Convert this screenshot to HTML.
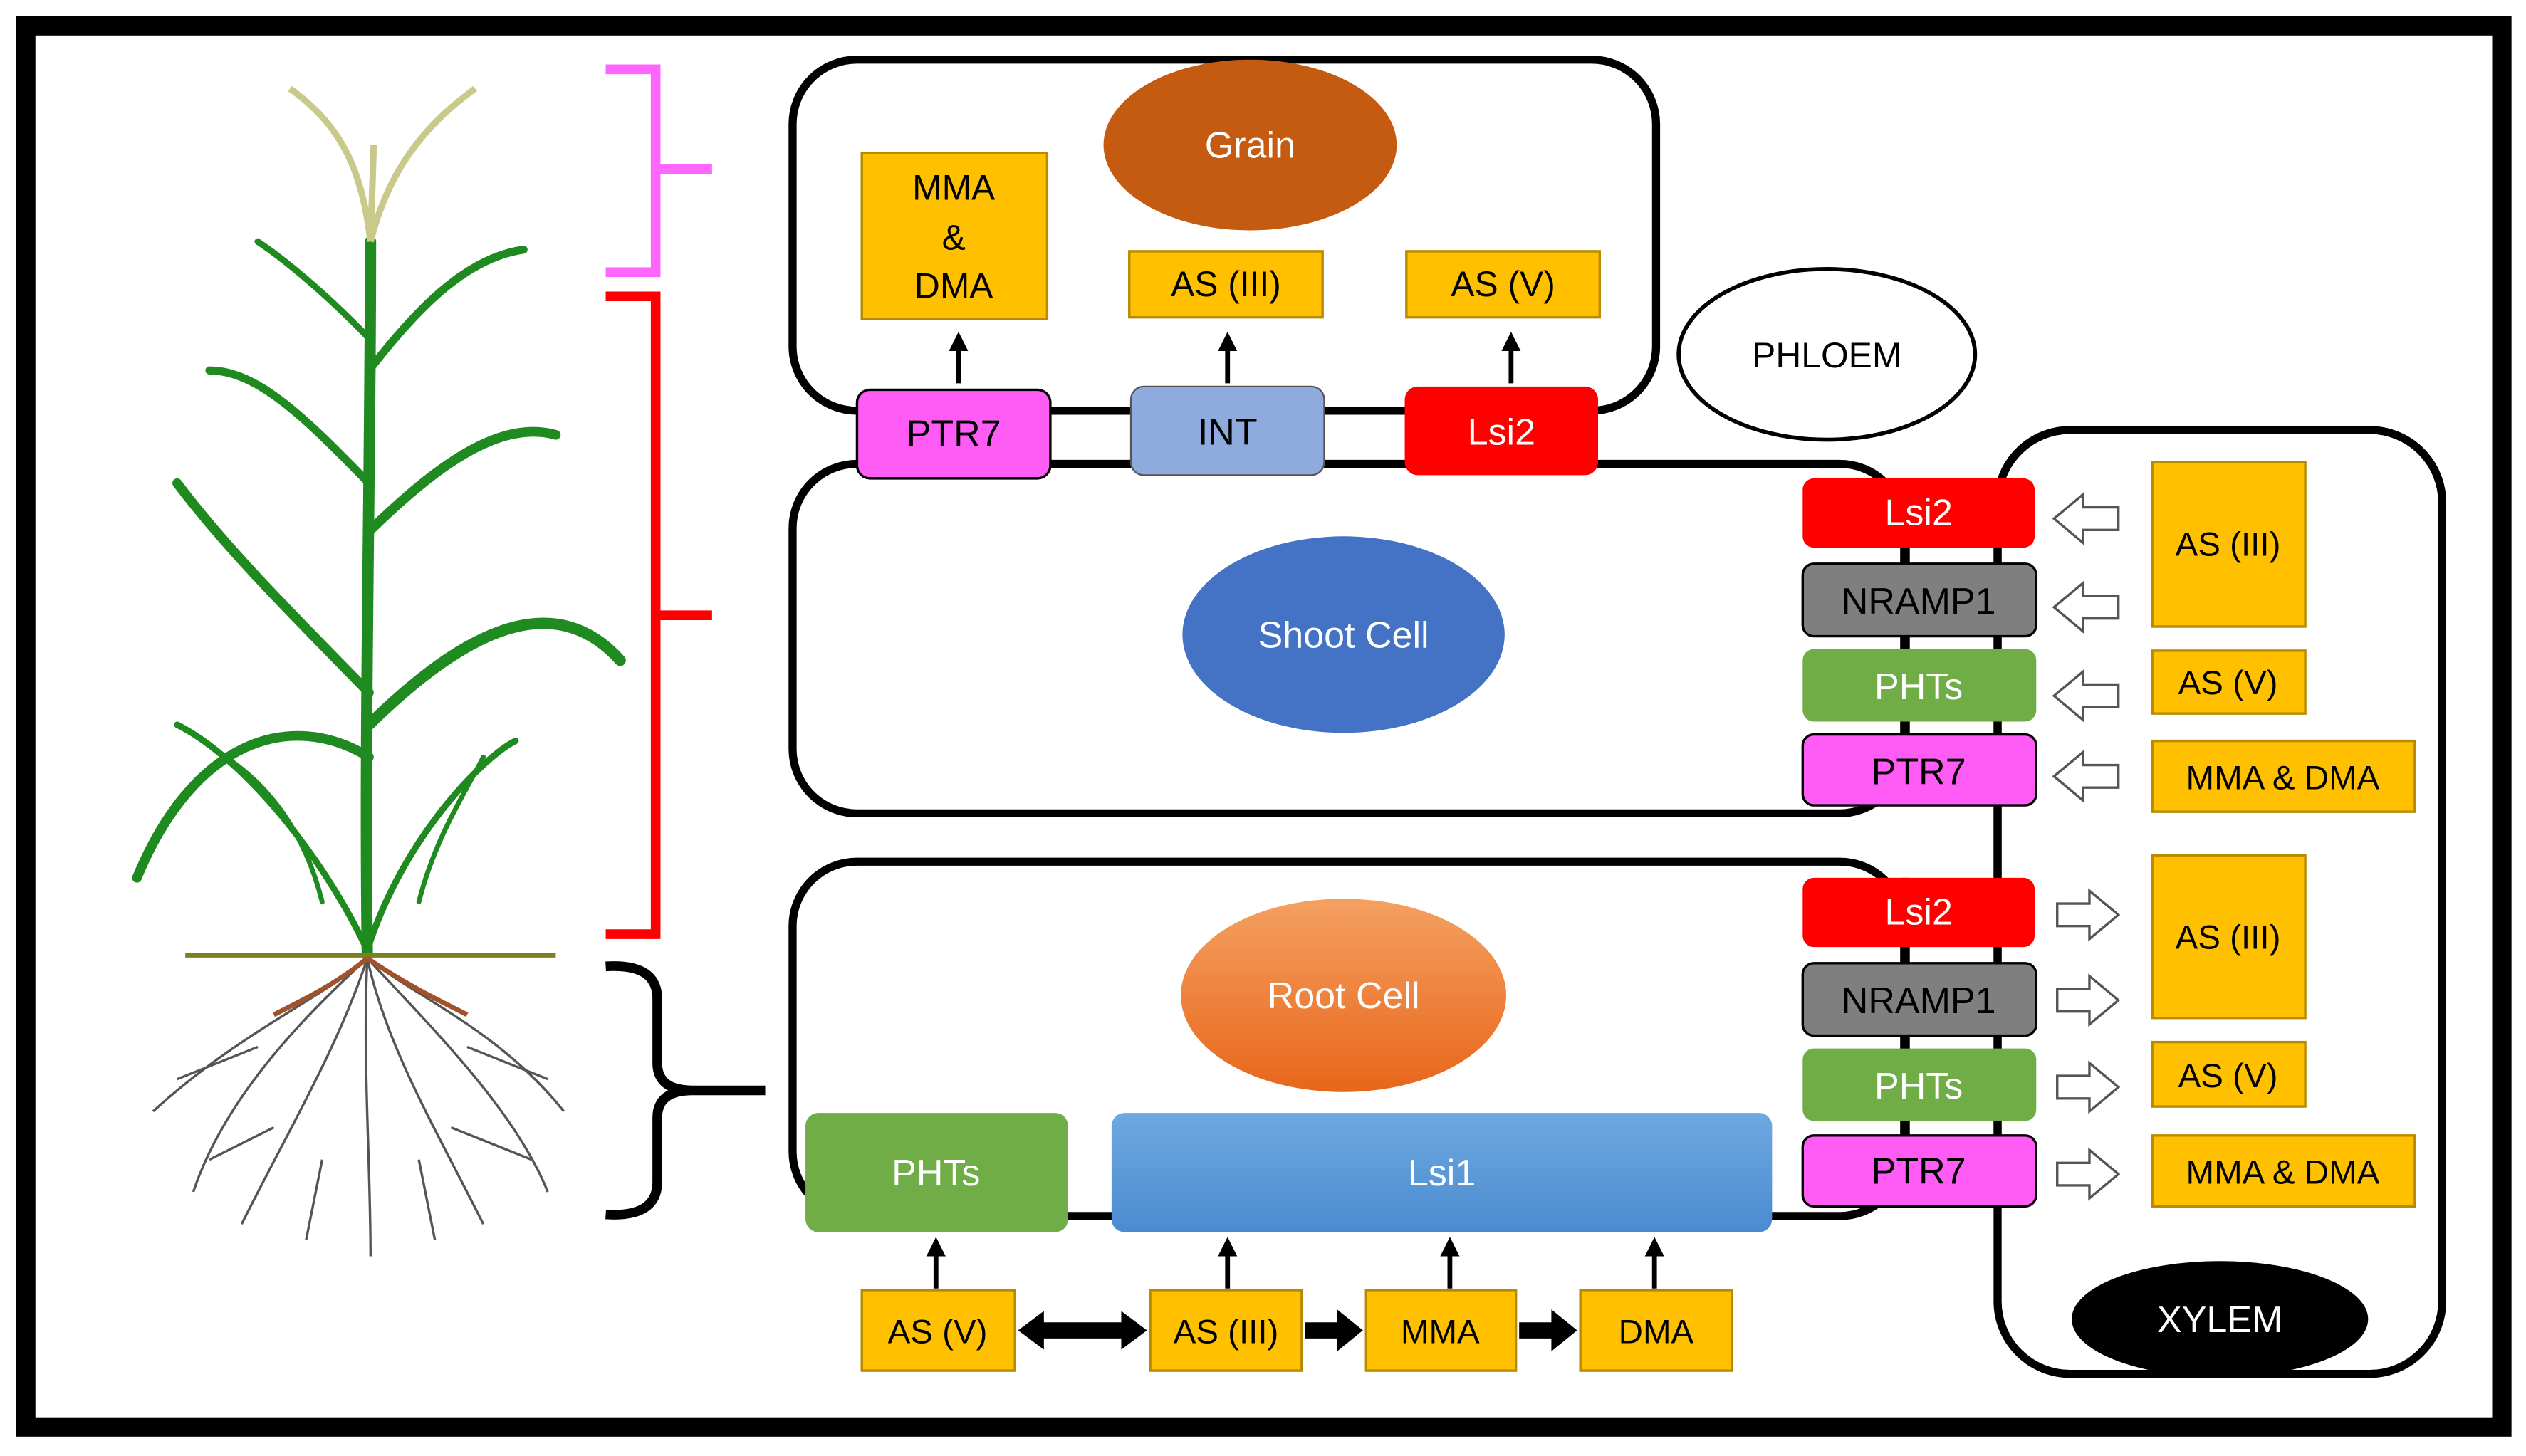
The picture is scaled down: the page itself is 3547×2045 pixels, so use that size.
<!DOCTYPE html>
<html><head><meta charset="utf-8"><style>
html,body{margin:0;padding:0;background:#fff;}
svg{display:block;}
text{font-family:"Liberation Sans",sans-serif;}
</style></head><body>
<svg width="3547" height="2045" viewBox="0 0 1568 904" xmlns="http://www.w3.org/2000/svg">
<defs>
<marker id="ah" markerWidth="4" markerHeight="4" refX="2" refY="2" orient="auto" markerUnits="strokeWidth"><path d="M0,0 L4,2 L0,4 z" fill="#000"/></marker>
<linearGradient id="rc" x1="0" y1="0" x2="0" y2="1"><stop offset="0" stop-color="#f4a062"/><stop offset="1" stop-color="#e8661a"/></linearGradient>
<linearGradient id="bl" x1="0" y1="0" x2="0" y2="1"><stop offset="0" stop-color="#6fa8e0"/><stop offset="1" stop-color="#4a8bd0"/></linearGradient>
</defs>
<rect x="0" y="0" width="1568" height="904" fill="#fff"/>
<rect x="16" y="16" width="1537" height="870" fill="#fff" stroke="#000" stroke-width="12"/>

<!-- brackets -->
<path d="M376,43 H407 V169 H376 M407,105 H442" fill="none" stroke="#ff66ff" stroke-width="6"/>
<path d="M376,184 H407 V580 H376 M407,382 H442" fill="none" stroke="#f00" stroke-width="6"/>
<path d="M376,600 Q408,598 408,620 V660 Q408,677 430,677 H475 M376,754 Q408,756 408,734 V694 Q408,677 430,677" fill="none" stroke="#000" stroke-width="6"/>

<!-- plant -->
<g stroke="#1f8a1f" fill="none" stroke-linecap="round">
<path d="M228,593 C226,450 230,300 230,150" stroke-width="7"/>
<path d="M228,590 C200,530 150,470 110,450" stroke-width="4"/>
<path d="M228,590 C250,520 300,470 320,460" stroke-width="4"/>
<path d="M229,430 C180,380 140,340 110,300" stroke-width="6"/>
<path d="M229,450 C280,400 340,360 385,410" stroke-width="7"/>
<path d="M229,330 C270,290 310,260 345,270" stroke-width="6"/>
<path d="M229,300 C190,260 160,230 130,230" stroke-width="5"/>
<path d="M229,230 C260,190 290,160 325,155" stroke-width="5"/>
<path d="M229,210 C200,180 175,160 160,150" stroke-width="4"/>
<path d="M229,470 C180,440 120,460 85,545" stroke-width="6"/>
<path d="M200,560 C190,520 170,490 140,470" stroke-width="3"/>
<path d="M260,560 C270,520 290,490 300,470" stroke-width="3"/>
</g>
<g stroke="#c9c98a" fill="none" stroke-width="4">
<path d="M230,150 C225,110 215,80 180,55"/><path d="M230,150 C240,110 260,80 295,55"/><path d="M230,150 L232,90"/>
</g>
<line x1="115" y1="593" x2="345" y2="593" stroke="#7f7f20" stroke-width="3"/>
<g stroke="#555" fill="none" stroke-width="1.5">
<path d="M228,595 C200,620 150,640 95,690"/><path d="M228,595 C260,620 310,640 350,690"/>
<path d="M228,595 C210,650 180,700 150,760"/><path d="M228,595 C240,650 270,700 300,760"/>
<path d="M228,595 C225,660 230,720 230,780"/><path d="M228,595 C190,630 140,680 120,740"/>
<path d="M228,595 C270,640 320,690 340,740"/><path d="M160,650 L110,670 M170,700 L130,720 M290,650 L340,670 M280,700 L330,720 M200,720 L190,770 M260,720 L270,770"/>
</g>
<path d="M228,595 C210,610 190,620 170,630 M228,595 C250,610 270,620 290,630" stroke="#a0522d" stroke-width="3" fill="none"/>

<!-- grain box -->
<rect x="492" y="37" width="536" height="218" rx="40" fill="none" stroke="#000" stroke-width="5"/>
<ellipse cx="776" cy="90" rx="91" ry="53" fill="#c55a11"/>
<text x="776" y="98" font-size="23" fill="#fff" text-anchor="middle">Grain</text>
<g fill="#ffc000" stroke="#b88a00" stroke-width="1.5">
<rect x="535" y="95" width="115" height="103"/><rect x="701" y="156" width="120" height="41"/><rect x="873" y="156" width="120" height="41"/>
</g>
<g font-size="22" text-anchor="middle" fill="#000">
<text x="592" y="124">MMA</text><text x="592" y="155">&amp;</text><text x="592" y="185">DMA</text>
<text x="761" y="184">AS (III)</text><text x="933" y="184">AS (V)</text>
</g>
<g stroke="#000" stroke-width="3" marker-end="url(#ah)">
<line x1="595" y1="238" x2="595" y2="212"/><line x1="762" y1="238" x2="762" y2="212"/><line x1="938" y1="238" x2="938" y2="212"/>
</g>

<!-- shoot cell -->
<rect x="492" y="288" width="690" height="217" rx="40" fill="none" stroke="#000" stroke-width="5"/>
<rect x="532" y="242" width="120" height="55" rx="8" fill="#ff5cf5" stroke="#000" stroke-width="1.5"/>
<rect x="702" y="240" width="120" height="55" rx="8" fill="#8faadc" stroke="#555" stroke-width="1"/>
<rect x="872" y="240" width="120" height="55" rx="8" fill="#ff0000"/>
<g font-size="23" text-anchor="middle">
<text x="592" y="277" fill="#000">PTR7</text><text x="762" y="276" fill="#000">INT</text><text x="932" y="276" fill="#fff">Lsi2</text>
</g>
<ellipse cx="1134" cy="220" rx="92" ry="53" fill="#fff" stroke="#000" stroke-width="2.5"/>
<text x="1134" y="228" font-size="22" text-anchor="middle">PHLOEM</text>
<ellipse cx="834" cy="394" rx="100" ry="61" fill="#4472c4"/>
<text x="834" y="402" font-size="23" fill="#fff" text-anchor="middle">Shoot Cell</text>

<!-- root cell -->
<rect x="492" y="535" width="690" height="220" rx="40" fill="#fff" stroke="#000" stroke-width="5"/>
<ellipse cx="834" cy="618" rx="101" ry="60" fill="url(#rc)"/>
<text x="834" y="626" font-size="23" fill="#fff" text-anchor="middle">Root Cell</text>
<rect x="500" y="691" width="163" height="74" rx="8" fill="#70ad47"/>
<text x="581" y="736" font-size="23" fill="#fff" text-anchor="middle">PHTs</text>
<rect x="690" y="691" width="410" height="74" rx="8" fill="url(#bl)"/>
<text x="895" y="736" font-size="23" fill="#fff" text-anchor="middle">Lsi1</text>

<!-- xylem -->
<rect x="1240" y="267" width="276" height="586" rx="45" fill="none" stroke="#000" stroke-width="5"/>
<ellipse cx="1378" cy="819" rx="92" ry="36" fill="#000"/>
<text x="1378" y="827" font-size="23" fill="#fff" text-anchor="middle">XYLEM</text>

<!-- transporter columns -->
<g stroke="#000" stroke-width="5">
<line x1="1183" y1="297" x2="1183" y2="500"/><line x1="1240" y1="297" x2="1240" y2="749"/><line x1="1183" y1="545" x2="1183" y2="749"/>
</g>
<g stroke="#000" stroke-width="1.5">
<rect x="1119" y="297" width="144" height="43" rx="7" fill="#ff0000" stroke="none"/>
<rect x="1119" y="350" width="145" height="45" rx="7" fill="#7f7f7f"/>
<rect x="1119" y="403" width="145" height="45" rx="7" fill="#70ad47" stroke="none"/>
<rect x="1119" y="456" width="145" height="44" rx="7" fill="#ff5cf5"/>
<rect x="1119" y="545" width="144" height="43" rx="7" fill="#ff0000" stroke="none"/>
<rect x="1119" y="598" width="145" height="45" rx="7" fill="#7f7f7f"/>
<rect x="1119" y="651" width="145" height="45" rx="7" fill="#70ad47" stroke="none"/>
<rect x="1119" y="705" width="145" height="44" rx="7" fill="#ff5cf5"/>
</g>
<g font-size="23" text-anchor="middle">
<text x="1191" y="326" fill="#fff">Lsi2</text><text x="1191" y="381" fill="#000">NRAMP1</text>
<text x="1191" y="434" fill="#fff">PHTs</text><text x="1191" y="487" fill="#000">PTR7</text>
<text x="1191" y="574" fill="#fff">Lsi2</text><text x="1191" y="629" fill="#000">NRAMP1</text>
<text x="1191" y="682" fill="#fff">PHTs</text><text x="1191" y="735" fill="#000">PTR7</text>
</g>
<!-- hollow arrows -->
<g fill="#fff" stroke="#555" stroke-width="1.5">
<path d="M1275,322 L1293,307 L1293,315 L1315,315 L1315,329 L1293,329 L1293,337 z"/>
<path d="M1275,377 L1293,362 L1293,370 L1315,370 L1315,384 L1293,384 L1293,392 z"/>
<path d="M1275,432 L1293,417 L1293,425 L1315,425 L1315,439 L1293,439 L1293,447 z"/>
<path d="M1275,482 L1293,467 L1293,475 L1315,475 L1315,489 L1293,489 L1293,497 z"/>
<path d="M1315,568 L1297,553 L1297,561 L1277,561 L1277,575 L1297,575 L1297,583 z"/>
<path d="M1315,621 L1297,606 L1297,614 L1277,614 L1277,628 L1297,628 L1297,636 z"/>
<path d="M1315,675 L1297,660 L1297,668 L1277,668 L1277,682 L1297,682 L1297,690 z"/>
<path d="M1315,729 L1297,714 L1297,722 L1277,722 L1277,736 L1297,736 L1297,744 z"/>
</g>
<g fill="#ffc000" stroke="#b88a00" stroke-width="1.5">
<rect x="1336" y="287" width="95" height="102"/><rect x="1336" y="404" width="95" height="39"/><rect x="1336" y="460" width="163" height="44"/>
<rect x="1336" y="531" width="95" height="101"/><rect x="1336" y="647" width="95" height="40"/><rect x="1336" y="705" width="163" height="44"/>
<rect x="535" y="801" width="95" height="50"/><rect x="714" y="801" width="94" height="50"/><rect x="848" y="801" width="93" height="50"/><rect x="981" y="801" width="94" height="50"/>
</g>
<g font-size="21" text-anchor="middle" fill="#000">
<text x="1383" y="345">AS (III)</text><text x="1383" y="431">AS (V)</text><text x="1417" y="490">MMA &amp; DMA</text>
<text x="1383" y="589">AS (III)</text><text x="1383" y="675">AS (V)</text><text x="1417" y="735">MMA &amp; DMA</text>
<text x="582" y="834">AS (V)</text><text x="761" y="834">AS (III)</text><text x="894" y="834">MMA</text><text x="1028" y="834">DMA</text>
</g>
<g stroke="#000" stroke-width="3" marker-end="url(#ah)">
<line x1="581" y1="800" x2="581" y2="774"/><line x1="762" y1="800" x2="762" y2="774"/><line x1="900" y1="800" x2="900" y2="774"/><line x1="1027" y1="800" x2="1027" y2="774"/>
</g>
<path d="M632,826 L648,814 L648,821 L696,821 L696,814 L712,826 L696,838 L696,831 L648,831 L648,838 z" fill="#000"/>
<path d="M810,821 L830,821 L830,813 L846,826 L830,839 L830,831 L810,831 z" fill="#000"/>
<path d="M943,821 L963,821 L963,813 L979,826 L963,839 L963,831 L943,831 z" fill="#000"/>
</svg>
</body></html>
